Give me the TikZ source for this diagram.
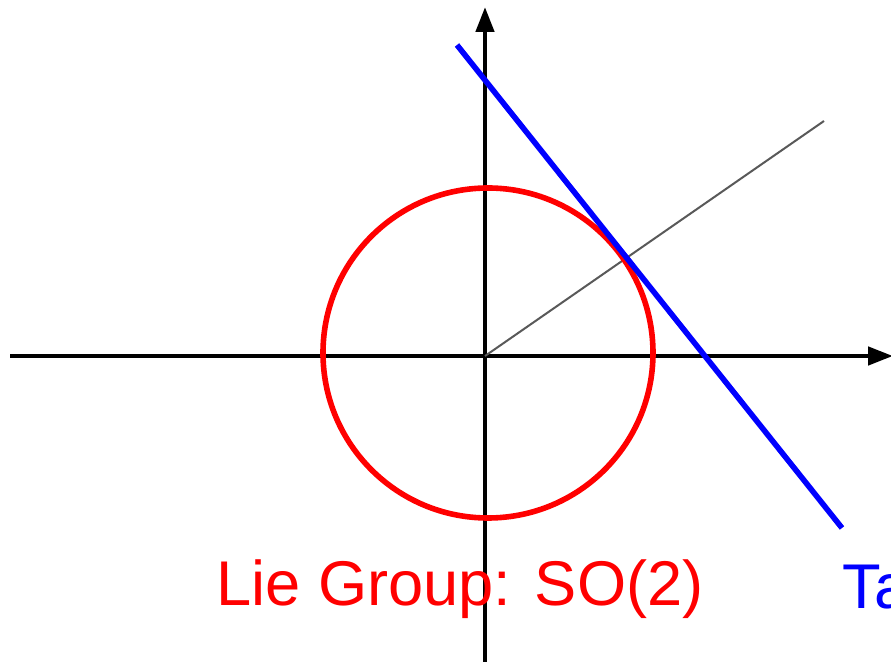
\documentclass[tikz,border=0pt]{standalone}
\usepackage{fontspec}
\setmainfont{Liberation Sans}
\usetikzlibrary{arrows.meta}

\begin{document}
\begin{tikzpicture}[x=0.5pt,y=-0.5pt,>={Triangle[length=12.5pt,width=9pt]},
  ax/.style={line width=2.3pt,black},
  lbl/.style={anchor=base west,inner sep=0pt,font=\fontsize{31.6}{38}\selectfont}]
  \useasboundingbox (0,0) rectangle (891,662);
  \coordinate (o) at (485,356);\coordinate (xl) at (10,356);\coordinate (xr) at (893,356);
  \coordinate (yb) at (485,664);\coordinate (yt) at (485,7);
  \coordinate (c) at (488,353);\coordinate (r) at (824,121);
  \coordinate (t1) at (457,45);\coordinate (t2) at (842,528);
  \draw[ax,->](xl)--(xr);\draw[ax,->](yb)--(yt);
  \draw[line width=1pt,black!65](o)--(r);
  \draw[line width=2.8pt,red](c) circle[radius=165];
  \draw[line width=2.8pt,blue](t1)--(t2);
  \node[lbl,red](lie) at (216,606){Lie Group: SO(2)};
  \node[lbl,blue](tan) at (842,609){Ta};
\end{tikzpicture}
\end{document}
